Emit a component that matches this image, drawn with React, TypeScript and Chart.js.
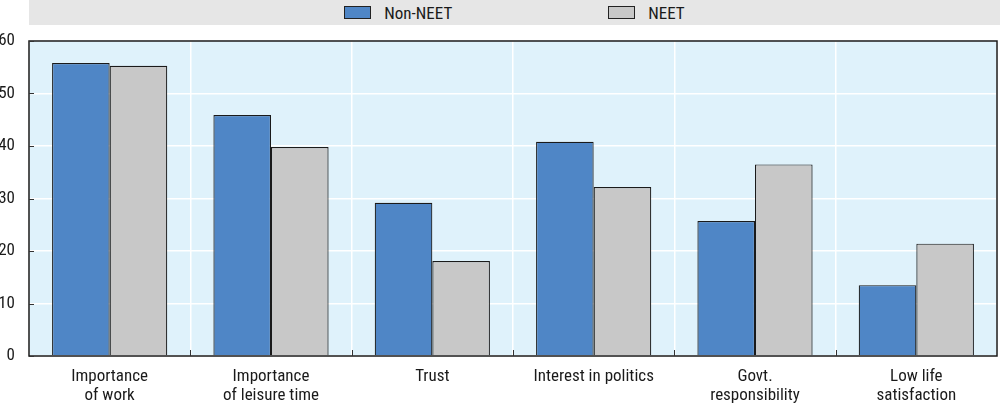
import React, { useEffect, useRef } from "react";
import { Chart, registerables } from "chart.js";

Chart.register(...registerables);

const categories: string[][] = [
  ["Importance", "of work"],
  ["Importance", "of leisure time"],
  ["Trust"],
  ["Interest in politics"],
  ["Govt.", "responsibility"],
  ["Low life", "satisfaction"],
];
const seriesNames = ["Non-NEET", "NEET"];
const nonNeet = [55.8, 45.9, 29.2, 40.8, 25.7, 13.5];
const neet = [55.3, 39.8, 18.1, 32.2, 36.5, 21.4];
const yTicks = [0, 10, 20, 30, 40, 50, 60];

const BLUE = "#4f86c6";
const GRAY = "#c8c8c8";
const PLOT_BG = "#dff2fb";
const FONT = "'Liberation Sans Narrow', 'Roboto Condensed', 'DejaVu Sans Condensed', 'Arial Narrow', sans-serif";

const framePlugin = {
  id: "frame",
  beforeDraw(chart: any) {
    const { ctx, chartArea } = chart;
    ctx.save();
    ctx.fillStyle = PLOT_BG;
    ctx.fillRect(chartArea.left, chartArea.top, chartArea.right - chartArea.left, chartArea.bottom - chartArea.top);
    ctx.restore();
  },
  afterDraw(chart: any) {
    const { ctx, chartArea, scales } = chart;
    const { left, right, top, bottom } = chartArea;
    ctx.save();
    ctx.strokeStyle = "#1a1a1a";
    ctx.lineWidth = 1.5;
    ctx.strokeRect(left, top, right - left, bottom - top);
    ctx.lineWidth = 1;
    ctx.strokeStyle = "#333";
    yTicks.forEach((v) => {
      const y = Math.round(scales.y.getPixelForValue(v)) + 0.5;
      ctx.beginPath();
      ctx.moveTo(left, y);
      ctx.lineTo(left + 5, y);
      ctx.stroke();
    });
    const n = categories.length;
    for (let i = 1; i < n; i++) {
      const x = Math.round(left + ((right - left) * i) / n) + 0.5;
      ctx.beginPath();
      ctx.moveTo(x, bottom);
      ctx.lineTo(x, bottom - 6);
      ctx.stroke();
    }
    ctx.restore();
  },
};

export default function App() {
  const ref = useRef<HTMLCanvasElement | null>(null);

  useEffect(() => {
    if (!ref.current) return;
    const chart = new Chart(ref.current, {
      type: "bar",
      data: {
        labels: categories,
        datasets: [
          {
            label: seriesNames[0],
            data: nonNeet,
            backgroundColor: BLUE,
            borderColor: "#1a1a1a",
            borderWidth: 1.2,
            categoryPercentage: 0.714,
            barPercentage: 1,
          },
          {
            label: seriesNames[1],
            data: neet,
            backgroundColor: GRAY,
            borderColor: "#1a1a1a",
            borderWidth: 1.2,
            categoryPercentage: 0.714,
            barPercentage: 1,
          },
        ],
      },
      options: {
        animation: false,
        responsive: false,
        maintainAspectRatio: false,
        layout: { padding: { top: 41, right: 3, left: 0, bottom: 0 } },
        plugins: {
          legend: { display: false },
          tooltip: { enabled: false },
        },
        scales: {
          x: {
            grid: { color: "#ffffff", lineWidth: 1.5, drawTicks: false, offset: true },
            border: { display: false },
            ticks: {
              color: "#1a1a1a",
              padding: 11,
              font: { family: FONT, size: 17, lineHeight: 1.13 },
              maxRotation: 0,
              autoSkip: false,
            },
            afterFit: (s: any) => {
              s.height = 48;
            },
          },
          y: {
            min: 0,
            max: 60,
            grid: { color: "#ffffff", lineWidth: 1.5, drawTicks: false },
            border: { display: false },
            ticks: {
              stepSize: 10,
              color: "#1a1a1a",
              padding: 14,
              font: { family: FONT, size: 17 },
            },
            afterFit: (s: any) => {
              s.width = 29;
            },
          },
        },
      },
      plugins: [framePlugin],
    });
    return () => chart.destroy();
  }, []);

  const legendItem = (name: string, color: string) => (
    <div key={name} style={{ display: "flex", alignItems: "center" }}>
      <div
        style={{
          width: 25,
          height: 11,
          background: color,
          border: "1px solid #222",
          marginRight: 13,
        }}
      />
      <span style={{ fontFamily: FONT, fontSize: 17, color: "#1a1a1a" }}>{name}</span>
    </div>
  );

  return (
    <div style={{ position: "fixed", left: 0, top: 0, width: 1000, height: 404, background: "#fff" }}>
      <canvas ref={ref} width={1000} height={404} style={{ position: "absolute", left: 0, top: 0 }} />
      <div
        style={{
          position: "absolute",
          left: 29,
          top: 0,
          width: 971,
          height: 25,
          background: "#e6e6e6",
          display: "flex",
          justifyContent: "center",
          alignItems: "center",
          gap: 156,
        }}
      >
        {legendItem(seriesNames[0], BLUE)}
        {legendItem(seriesNames[1], GRAY)}
      </div>
    </div>
  );
}
